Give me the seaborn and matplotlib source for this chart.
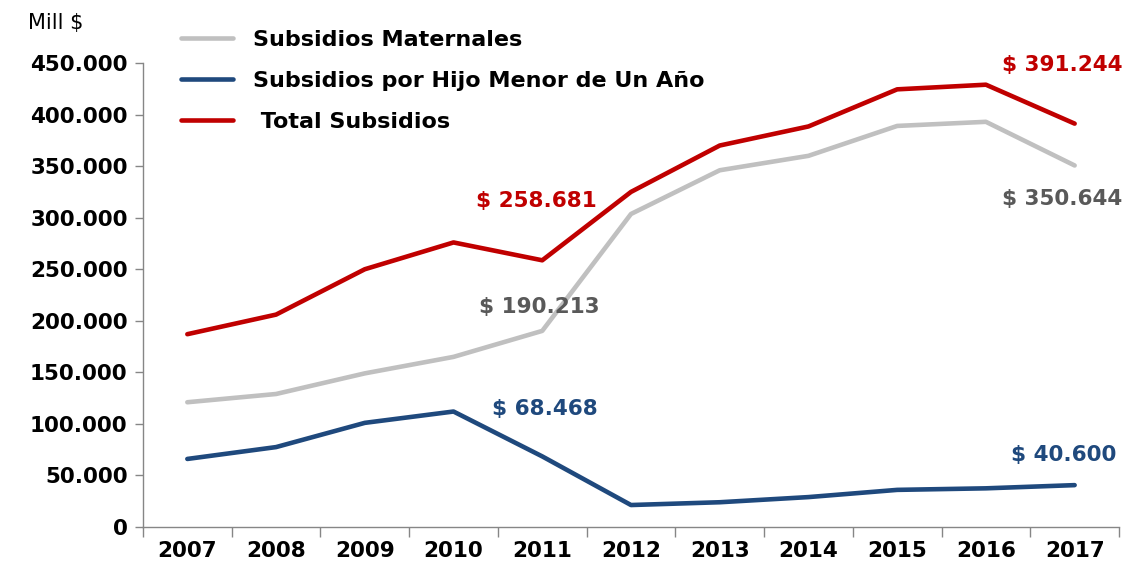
import numpy as np
import seaborn as sns
import pandas as pd
import matplotlib.pyplot as plt
from matplotlib.ticker import FuncFormatter, FixedLocator

years = ["2007", "2008", "2009", "2010", "2011", "2012",
         "2013", "2014", "2015", "2016", "2017"]
maternales = [121000, 129000, 149000, 165000, 190213, 303600,
              346000, 360000, 389000, 393000, 350644]
hijo_menor = [66000, 77500, 101000, 112000, 68468, 21300,
              24000, 29000, 36000, 37500, 40600]
total = [187000, 206000, 250000, 276000, 258681, 325000,
         370000, 388500, 424500, 429000, 391244]

series_names = ["Subsidios Maternales",
                "Subsidios por Hijo Menor de Un Año",
                " Total Subsidios"]
colors = ["#C0C0C0", "#1F497D", "#C00000"]

df = pd.DataFrame({"Año": years,
                   series_names[0]: maternales,
                   series_names[1]: hijo_menor,
                   series_names[2]: total})
long_df = df.melt(id_vars="Año", var_name="Serie", value_name="Monto")

sns.set_style("white")
plt.rcParams["font.family"] = ["DejaVu Sans"]

fig = plt.figure(figsize=(11.31, 5.68), dpi=100)
ax = fig.add_axes([0.1264, 0.0722, 0.863, 0.8168])

sns.lineplot(data=long_df, x="Año", y="Monto", hue="Serie",
             hue_order=series_names, palette=colors, linewidth=3.3,
             ax=ax, sort=False)
for line in ax.get_lines():
    line.set_solid_capstyle("round")

ax.set_xlim(-0.5, len(years) - 0.5)
ax.set_ylim(0, 450000)
ax.set_yticks(np.arange(0, 450001, 50000))
ax.yaxis.set_major_formatter(
    FuncFormatter(lambda v, p: f"{int(v):,}".replace(",", ".")))
ax.xaxis.set_minor_locator(FixedLocator(np.arange(-0.5, len(years), 1.0)))
ax.tick_params(axis="x", which="major", bottom=True, length=0, pad=10,
               labelsize=15.5)
ax.tick_params(axis="x", which="minor", bottom=True, length=7, width=1,
               color="#868686", direction="out")
ax.tick_params(axis="y", left=True, length=6, width=1, color="#868686",
               direction="out", labelsize=15.5, pad=5)
for lab in ax.get_xticklabels() + ax.get_yticklabels():
    lab.set_fontweight("bold")
    lab.set_color("black")

ax.set_xlabel("")
ax.set_ylabel("")
sns.despine(ax=ax)
for s in ["left", "bottom"]:
    ax.spines[s].set_color("#868686")
    ax.spines[s].set_linewidth(1)

# etiquetas de valores
red, gray, blue = "#C00000", "#595959", "#1F497D"
def tag(i, value, color, dx, dy):
    ax.annotate("$ " + f"{value / 1000:.3f}",
                xy=(i, value), xytext=(dx, dy), textcoords="offset points",
                ha="center", va="center", fontsize=15.5, fontweight="bold",
                color=color)

tag(4, total[4], red, -4, 43)
tag(4, maternales[4], gray, -2, 17)
tag(4, hijo_menor[4], blue, 2, 34)
tag(10, total[10], red, -9, 42)
tag(10, maternales[10], gray, -9, -24)
tag(10, hijo_menor[10], blue, -8, 22)

fig.text(0.025, 0.96, "Mill $", fontsize=15, ha="left", va="center",
         color="black")

leg = ax.legend(loc="upper left", bbox_to_anchor=(0.146, 0.975),
                bbox_transform=fig.transFigure, frameon=False,
                prop={"weight": "bold", "size": 16}, handlelength=2.35,
                handletextpad=0.9, labelspacing=0.95, borderaxespad=0.3)
for t in leg.get_texts():
    t.set_color("black")

fig.savefig("out.png", dpi=100)
